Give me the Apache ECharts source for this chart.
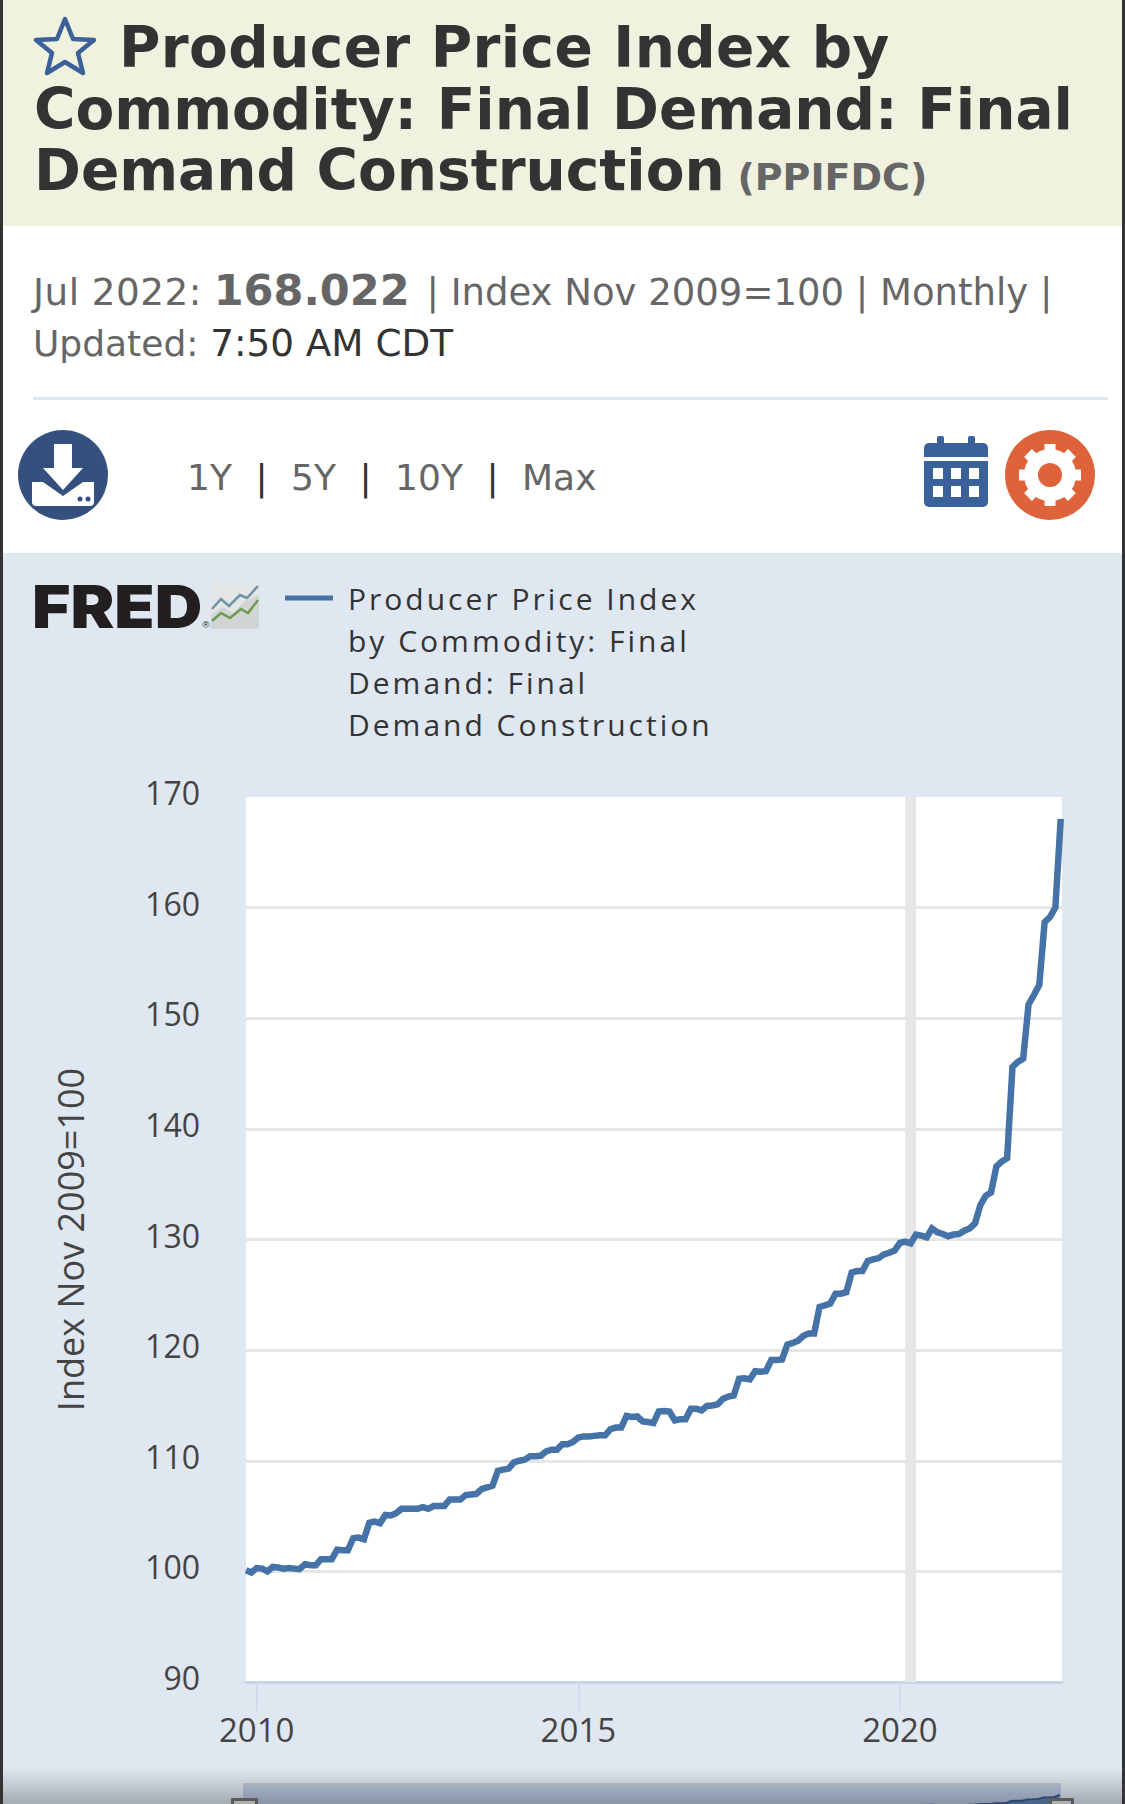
<!DOCTYPE html>
<html><head><meta charset="utf-8">
<script src="https://cdn.jsdelivr.net/npm/echarts@6/dist/echarts.min.js"></script>
<style>
html,body{margin:0;padding:0;background:#fff;width:1125px;height:1804px;overflow:hidden}
div.a,svg.a{position:absolute}
#chart{position:absolute;left:0;top:0;width:1125px;height:1804px}
#chart text[style*="30px"]{letter-spacing:3px}
.dv{font-family:"DejaVu Sans";white-space:nowrap}
</style></head><body>
<div class="a" style="left:0;top:553px;width:1125px;height:1251px;background:#dfe7f1"></div>
<div class="a" style="left:0;top:0;width:1125px;height:226px;background:#f0f1df"></div>
<div id="chart"></div>
<svg class="a" style="left:32px;top:15px" width="66" height="62" viewBox="0 0 66 62"><path d="M33 4 L41 24 L62 25 L46 38 L51 58 L33 47 L15 58 L20 38 L4 25 L25 24 Z" fill="none" stroke="#3a6199" stroke-width="4.5" stroke-linejoin="round"/></svg>
<div class="a dv" style="left:34px;top:17px;font-weight:bold;font-size:56.5px;line-height:61.5px;color:#333"><span style="margin-left:85px;letter-spacing:.4px">Producer Price Index by</span><br>Commodity: Final Demand: Final<br>Demand Construction <span style="font-size:38px;color:#666;margin-left:-7px">(PPIFDC)</span></div>
<div class="a dv" style="left:33px;top:265px;font-size:37.3px;line-height:50px;color:#666"><span style="letter-spacing:.5px">Jul 2022:</span> <b style="font-size:43px">168.022</b> <span style="margin-left:5px;font-size:37px">| Index Nov 2009=100 | Monthly |</span><br><span style="font-size:36px">Updated:</span> <span style="color:#333">7:50 AM CDT</span></div>
<div class="a" style="left:33px;top:397px;width:1075px;height:3px;background:#dfe6f0"></div>
<svg class="a" style="left:18px;top:430px" width="90" height="90" viewBox="0 0 90 90"><circle cx="45" cy="45" r="45" fill="#34507f"/><path d="M36 14h18v24h11L45 60 25 38h11z" fill="#fff"/><path d="M14 52h11l20 14 20-14h11v20a4 4 0 0 1-4 4H18a4 4 0 0 1-4-4z" fill="#fff"/><circle cx="62" cy="69" r="2.5" fill="#34507f"/><circle cx="70" cy="69" r="2.5" fill="#34507f"/></svg>
<div class="a dv" style="left:187px;top:456px;font-size:36px;line-height:44px;color:#666">1Y<span style="color:#333;margin:0 23.5px">|</span>5Y<span style="color:#333;margin:0 23.5px">|</span>10Y<span style="color:#333;margin:0 23.5px">|</span>Max</div>
<svg class="a" style="left:924px;top:436px" width="64" height="72" viewBox="0 0 64 72"><rect x="13" y="0" width="7" height="14" rx="2" fill="#3a6199"/><rect x="44" y="0" width="7" height="14" rx="2" fill="#3a6199"/><path d="M5 7h54a5 5 0 0 1 5 5v9H0V12a5 5 0 0 1 5-5z" fill="#3a6199"/><path d="M0 25h64v41a5 5 0 0 1-5 5H5a5 5 0 0 1-5-5z" fill="#3a6199"/><g fill="#fff"><rect x="9" y="32" width="10" height="11"/><rect x="27" y="32" width="10" height="11"/><rect x="45" y="32" width="10" height="11"/><rect x="9" y="50" width="10" height="11"/><rect x="27" y="50" width="10" height="11"/><rect x="45" y="50" width="10" height="11"/></g></svg>
<svg class="a" style="left:1005px;top:430px" width="90" height="90" viewBox="0 0 90 90"><circle cx="45" cy="45" r="45" fill="#df633a"/><circle cx="45" cy="45" r="19" fill="none" stroke="#fff" stroke-width="14"/><g stroke="#fff" stroke-width="11"><path d="M45 14v10M45 66v10M14 45h10M66 45h10M23 23l7 7M60 60l7 7M67 23l-7 7M30 60l-7 7"/></g></svg>
<div class="a" style="left:32px;top:575px;font-family:Inter,'Liberation Sans';font-weight:900;font-size:59px;line-height:64px;letter-spacing:0;color:#231f20;transform:scaleX(1.115);transform-origin:left center;white-space:nowrap">FRED<span style="font-family:'Liberation Sans';font-size:9px;font-weight:normal">®</span></div>
<svg class="a" style="left:211px;top:585px" width="48" height="44" viewBox="0 0 48 44"><rect width="48" height="44" rx="3" fill="#e4e6e6"/><path d="M0 44V30L12 22 22 28 34 16 48 10V41a3 3 0 0 1-3 3z" fill="#d2d5d6"/><path d="M1 24 10 14 18 21 29 10 36 13 47 1" fill="none" stroke="#6f93a8" stroke-width="2.5"/><path d="M1 36 10 28 19 33 30 24 37 28 47 15" fill="none" stroke="#6d9c52" stroke-width="2.5"/></svg>
<div class="a" style="left:243px;top:1783px;width:818px;height:3px;background:#c4c8cf"></div>
<div class="a" style="left:231px;top:1798px;width:21px;height:10px;background:#e8e8e8;border:3px solid #777"></div>
<div class="a" style="left:1049px;top:1798px;width:19px;height:10px;background:#e8e8e8;border:3px solid #777"></div>
<div class="a" style="left:0;top:1768px;width:1125px;height:36px;background:linear-gradient(to bottom,rgba(0,0,0,0),rgba(0,0,0,.26));pointer-events:none"></div>
<div class="a" style="left:0;top:0;width:3px;height:1804px;background:#333"></div>
<div class="a" style="left:1122px;top:0;width:3px;height:1804px;background:#333"></div>
<script>
const seriesName = "Producer Price Index by Commodity: Final Demand: Final Demand Construction";
const legendLines = ["Producer Price Index", "by Commodity: Final", "Demand: Final", "Demand Construction"];
const axisName = "Index Nov 2009=100";
const yTicks = [90, 100, 110, 120, 130, 140, 150, 160, 170];
const xTickYears = [2010, 2015, 2020];
const firstMonth = [2009, 10];   // Nov 2009, month index from 0
const recession = [[2020, 1], [2020, 3]]; // Feb 2020 to Apr 2020
const values = [
100.1,99.9,100.3,100.25,100.0,100.4,100.35,100.25,100.3,100.25,100.2,100.65,100.55,100.55,101.1,101.1,
101.1,101.95,101.9,101.9,103.0,103.05,102.9,104.4,104.5,104.35,105.1,105.05,105.25,105.65,105.65,105.65,
105.65,105.8,105.65,105.9,105.9,105.9,106.5,106.5,106.5,106.9,106.95,107.0,107.45,107.6,107.75,109.1,
109.2,109.3,109.85,110.0,110.1,110.4,110.4,110.45,110.85,111.0,111.0,111.5,111.5,111.7,112.1,112.2,
112.2,112.25,112.3,112.3,112.85,113.0,113.0,114.05,113.95,114.0,113.55,113.5,113.4,114.45,114.5,114.45,
113.65,113.75,113.75,114.7,114.7,114.55,114.95,115.0,115.1,115.6,115.8,115.9,117.4,117.45,117.35,118.1,
118.05,118.1,119.1,119.1,119.15,120.5,120.65,120.85,121.3,121.5,121.5,123.9,124.05,124.2,125.1,125.1,
125.25,127.0,127.15,127.15,128.05,128.2,128.3,128.65,128.8,129.0,129.7,129.8,129.65,130.45,130.35,130.2,
131.0,130.65,130.5,130.3,130.45,130.5,130.8,131.0,131.45,133.1,133.95,134.25,136.6,137.05,137.35,145.6,
146.05,146.35,151.25,152.1,153.0,158.7,159.15,160.0,168.022
];
const yearFrac = (y, m) => y + m / 12;
const x0 = yearFrac(firstMonth[0], firstMonth[1]);
const data = values.map((v, i) => [x0 + i / 12, v]);
const xMin = x0;
const xMax = x0 + (values.length - 1) / 12 + 0.02;
const font = "'Open Sans'";
const chart = echarts.init(document.getElementById('chart'), null, {renderer: 'svg', width: 1125, height: 1804});
chart.setOption({
  animation: false,
  backgroundColor: 'transparent',
  textStyle: {fontFamily: font},
  legend: {
    left: 285, top: 583, padding: 0, itemGap: 0, itemWidth: 48, itemHeight: 5,
    icon: 'rect', data: [seriesName], selectedMode: false,
    formatter: () => legendLines[0],
    textStyle: {fontFamily: font, fontSize: 30, color: '#333', padding: [0, 0, 0, 10]}
  },
  graphic: legendLines.slice(1).map((t, i) => ({
    type: 'text', left: 348, top: 625 + 42 * i,
    style: {text: t, fontFamily: font, fontSize: 30, fill: '#333'}
  })),
  grid: [
    {left: 246, right: 63, top: 797, height: 885, show: true, backgroundColor: '#fff', borderWidth: 0, outerBoundsMode: 'none'},
    {left: 243, right: 64, top: 1783, height: 41, show: true, backgroundColor: '#b8c7e0', borderWidth: 0, outerBoundsMode: 'none'}
  ],
  xAxis: [
    {type: 'value', gridIndex: 0, min: xMin, max: xMax,
     axisLine: {lineStyle: {color: '#c8d5e8', width: 3}},
     axisTick: {show: true, length: 29, customValues: xTickYears, lineStyle: {color: '#cfdaea', width: 2}},
     axisLabel: {customValues: xTickYears, margin: 31, fontSize: 33, color: '#444', fontFamily: font,
       formatter: v => String(v)},
     splitLine: {show: false}},
    {type: 'value', gridIndex: 1, min: xMin, max: xMax, show: false}
  ],
  yAxis: [
    {type: 'value', gridIndex: 0, min: yTicks[0], max: yTicks[yTicks.length - 1], interval: 10,
     name: axisName, nameLocation: 'middle', nameGap: 158, nameRotate: 90,
     nameTextStyle: {fontSize: 36, color: '#444', fontFamily: font},
     axisLine: {show: false}, axisTick: {show: false},
     axisLabel: {margin: 46, fontSize: 32, color: '#444', fontFamily: font, verticalAlign: 'bottom', lineHeight: 9},
     splitLine: {show: true, showMinLine: false, showMaxLine: false, lineStyle: {color: '#e6e6e6', width: 3}}},
    {type: 'value', gridIndex: 1, min: 60, max: 212, show: false}
  ],
  series: [
    {name: seriesName, type: 'line', xAxisIndex: 0, yAxisIndex: 0, data, showSymbol: false,
     lineStyle: {color: '#4572a7', width: 6.5, join: 'miter', cap: 'butt'}, itemStyle: {color: '#4572a7'},
     markArea: {silent: true, itemStyle: {color: '#e6e6e6'},
       data: [[{xAxis: yearFrac(recession[0][0], recession[0][1])}, {xAxis: yearFrac(recession[1][0], recession[1][1])}]]}},
    {name: 'Navigator', type: 'line', xAxisIndex: 1, yAxisIndex: 1, data, showSymbol: false,
     lineStyle: {color: '#3c5d94', width: 2}, areaStyle: {color: '#4572a7', opacity: .75}}
  ]
});
</script>
</body></html>
